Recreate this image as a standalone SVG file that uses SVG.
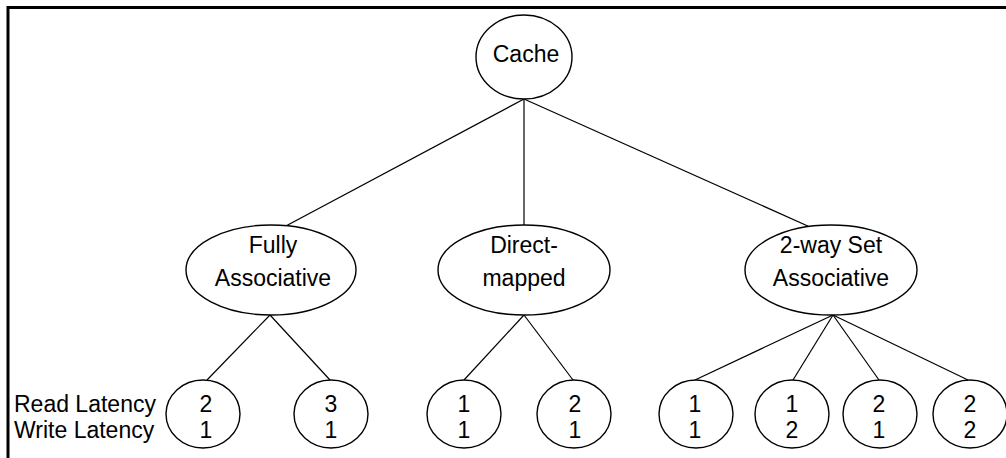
<svg xmlns="http://www.w3.org/2000/svg" width="1006" height="458" viewBox="0 0 1006 458">
<style>
.n{fill:#fff;stroke:#000;stroke-width:1.4}
.t{font-family:"Liberation Sans",Arial,sans-serif;font-size:23px;fill:#000;text-anchor:middle}
.l{font-family:"Liberation Sans",Arial,sans-serif;font-size:23px;fill:#000}
.c line{stroke:#000;stroke-width:1.2}
</style>
<rect width="1006" height="458" fill="#fff"/>
<path d="M8,458 V7.5 H1006" fill="none" stroke="#000" stroke-width="3"/>
<g class="c" id="connectors">
<line x1="524" y1="99" x2="284" y2="227"/>
<line x1="524" y1="99" x2="524" y2="225"/>
<line x1="524" y1="99" x2="810" y2="227"/>
<line x1="270" y1="315" x2="207" y2="380"/>
<line x1="270" y1="315" x2="330" y2="380"/>
<line x1="524" y1="315" x2="464" y2="380"/>
<line x1="524" y1="315" x2="573" y2="380"/>
<line x1="833" y1="315" x2="695" y2="380"/>
<line x1="833" y1="315" x2="793" y2="380"/>
<line x1="833" y1="315" x2="879" y2="380"/>
<line x1="833" y1="315" x2="968" y2="380"/>
</g>
<g id="cache"><ellipse class="n" cx="524" cy="57" rx="48" ry="42"/><text class="t" x="526" y="62">Cache</text></g>
<g id="fully"><ellipse class="n" cx="271" cy="270" rx="85" ry="45"/><text class="t" x="273" y="253">Fully</text><text class="t" x="273" y="286">Associative</text></g>
<g id="direct"><ellipse class="n" cx="524" cy="270" rx="86" ry="45"/><text class="t" x="524" y="253">Direct-</text><text class="t" x="524" y="286">mapped</text></g>
<g id="setassoc"><ellipse class="n" cx="831" cy="270" rx="86" ry="45"/><text class="t" x="831" y="253">2-way Set</text><text class="t" x="831" y="286">Associative</text></g>
<g id="legend"><text class="l" x="14" y="412">Read Latency</text><text class="l" x="14" y="438">Write Latency</text></g>
<g id="leaf1"><ellipse class="n" cx="203" cy="414" rx="37" ry="34"/><text class="t" x="206" y="412">2</text><text class="t" x="206" y="438">1</text></g>
<g id="leaf2"><ellipse class="n" cx="331" cy="414" rx="37" ry="34"/><text class="t" x="331" y="412">3</text><text class="t" x="331" y="438">1</text></g>
<g id="leaf3"><ellipse class="n" cx="464" cy="414" rx="37" ry="34"/><text class="t" x="464" y="412">1</text><text class="t" x="464" y="438">1</text></g>
<g id="leaf4"><ellipse class="n" cx="574" cy="414" rx="37" ry="34"/><text class="t" x="575" y="412">2</text><text class="t" x="575" y="438">1</text></g>
<g id="leaf5"><ellipse class="n" cx="696" cy="414" rx="37" ry="34"/><text class="t" x="695" y="412">1</text><text class="t" x="695" y="438">1</text></g>
<g id="leaf6"><ellipse class="n" cx="792" cy="414" rx="37" ry="34"/><text class="t" x="792" y="412">1</text><text class="t" x="792" y="438">2</text></g>
<g id="leaf7"><ellipse class="n" cx="880" cy="414" rx="37" ry="34"/><text class="t" x="879" y="412">2</text><text class="t" x="879" y="438">1</text></g>
<g id="leaf8"><ellipse class="n" cx="970" cy="414" rx="37" ry="34"/><text class="t" x="970" y="412">2</text><text class="t" x="970" y="438">2</text></g>
</svg>
